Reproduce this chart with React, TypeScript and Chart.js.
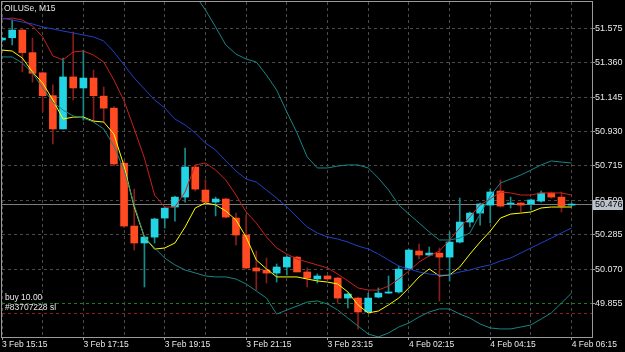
import React, { useEffect, useRef } from "react";
import { Chart, registerables } from "chart.js";

Chart.register(...registerables);

// ---- data ----
const times: string[] = [
  "3 Feb 15:15", "3 Feb 15:30", "3 Feb 15:45", "3 Feb 16:00", "3 Feb 16:15", "3 Feb 16:30", "3 Feb 16:45", "3 Feb 17:00",
  "3 Feb 17:15", "3 Feb 17:30", "3 Feb 17:45", "3 Feb 18:00", "3 Feb 18:15", "3 Feb 18:30", "3 Feb 18:45", "3 Feb 19:00",
  "3 Feb 19:15", "3 Feb 19:30", "3 Feb 19:45", "3 Feb 20:00", "3 Feb 20:15", "3 Feb 20:30", "3 Feb 20:45", "3 Feb 21:00",
  "3 Feb 21:15", "3 Feb 21:30", "3 Feb 21:45", "3 Feb 22:00", "3 Feb 22:15", "3 Feb 22:30", "3 Feb 22:45", "3 Feb 23:00",
  "3 Feb 23:15", "3 Feb 23:30", "3 Feb 23:45", "4 Feb 01:00", "4 Feb 01:15", "4 Feb 01:30", "4 Feb 01:45", "4 Feb 02:00",
  "4 Feb 02:15", "4 Feb 02:30", "4 Feb 02:45", "4 Feb 03:00", "4 Feb 03:15", "4 Feb 03:30", "4 Feb 03:45", "4 Feb 04:00",
  "4 Feb 04:15", "4 Feb 04:30", "4 Feb 04:45", "4 Feb 05:00", "4 Feb 05:15", "4 Feb 05:30", "4 Feb 05:45", "4 Feb 06:00",
  "4 Feb 06:15",
];
const shiftSlots: string[] = ["", ""];

const opens: number[] = [
  51.502, 51.516, 51.564, 51.423, 51.297, 51.154, 50.946, 51.271, 51.202, 51.264, 51.151, 51.076, 50.732, 50.339, 50.233,
  50.270, 50.389, 50.458, 50.520, 50.708, 50.564, 50.489, 50.508, 50.389, 50.283, 50.077, 50.064, 50.045, 50.083, 50.145,
  50.052, 50.008, 50.027, 50.014, 49.889, 49.889, 49.802, 49.895, 49.920, 49.927, 50.070, 50.183, 50.158, 50.170, 50.145,
  50.239, 50.364, 50.420, 50.470, 50.558, 50.477, 50.483, 50.477, 50.495, 50.545, 50.520, 50.470,
];
const highs: number[] = [
  51.520, 51.627, 51.571, 51.514, 51.302, 51.221, 51.389, 51.552, 51.439, 51.314, 51.208, 51.085, 50.745, 50.570, 50.276,
  50.389, 50.458, 50.526, 50.826, 50.720, 50.627, 50.520, 50.514, 50.420, 50.408, 50.183, 50.139, 50.102, 50.152, 50.150,
  50.077, 50.040, 50.030, 50.020, 49.920, 49.895, 49.920, 49.952, 50.027, 50.089, 50.195, 50.227, 50.208, 50.202, 50.302,
  50.514, 50.426, 50.483, 50.570, 50.627, 50.520, 50.486, 50.508, 50.558, 50.552, 50.552, 50.483,
];
const lows: number[] = [
  51.490, 51.471, 51.302, 51.239, 51.052, 50.852, 50.946, 51.127, 51.001, 50.989, 50.989, 50.715, 50.330, 50.189, 49.958,
  50.233, 50.326, 50.370, 50.489, 50.558, 50.480, 50.402, 50.389, 50.221, 50.070, 49.939, 49.983, 49.989, 50.033, 50.052,
  49.958, 49.983, 50.005, 49.858, 49.827, 49.696, 49.800, 49.890, 49.918, 49.920, 50.064, 50.133, 50.152, 49.870, 49.995,
  50.233, 50.333, 50.345, 50.358, 50.458, 50.452, 50.427, 50.440, 50.489, 50.514, 50.427, 50.464,
];
const closes: number[] = [
  51.514, 51.564, 51.423, 51.294, 51.154, 50.946, 51.271, 51.202, 51.264, 51.154, 51.076, 50.727, 50.339, 50.233, 50.270,
  50.383, 50.451, 50.520, 50.708, 50.570, 50.489, 50.508, 50.395, 50.283, 50.077, 50.058, 50.045, 50.083, 50.145, 50.052,
  50.014, 50.027, 50.008, 49.889, 49.914, 49.802, 49.889, 49.920, 49.927, 50.070, 50.189, 50.158, 50.170, 50.145, 50.239,
  50.364, 50.420, 50.477, 50.552, 50.464, 50.483, 50.470, 50.502, 50.545, 50.520, 50.464, 50.476,
];

// indicator lines
const maFast: number[] = [
  51.439, 51.433, 51.389, 51.301, 51.233, 51.127, 51.008, 51.020, 51.020, 50.995, 50.989, 50.914, 50.714, 50.458, 50.270,
  50.195, 50.202, 50.233, 50.333, 50.452, 50.483, 50.471, 50.433, 50.377, 50.270, 50.127, 50.071, 50.021, 50.021, 50.021,
  50.008, 49.996, 49.989, 49.977, 49.927, 49.846, 49.796, 49.808, 49.846, 49.889, 49.952, 50.021, 50.071, 50.027, 50.033,
  50.083, 50.164, 50.239, 50.308, 50.389, 50.414, 50.420, 50.427, 50.452, 50.458, 50.458, 50.458,
];
const maSlow: number[] = [
  51.633, 51.639, 51.627, 51.589, 51.521, 51.402, 51.377, 51.427, 51.433, 51.408, 51.364, 51.252, 51.120, 50.946, 50.764,
  50.533, 50.458, 50.458, 50.552, 50.721, 50.733, 50.689, 50.627, 50.533, 50.427, 50.358, 50.271, 50.202, 50.164, 50.133,
  50.114, 50.096, 50.077, 50.039, 49.996, 49.952, 49.939, 49.939, 49.964, 50.008, 50.058, 50.114, 50.152, 50.183, 50.252,
  50.327, 50.396, 50.471, 50.508, 50.552, 50.546, 50.533, 50.533, 50.546, 50.546, 50.546, 50.533,
];
const bandMid: number[] = [
  51.639, 51.627, 51.614, 51.602, 51.583, 51.571, 51.558, 51.546, 51.533, 51.521, 51.496, 51.427, 51.346, 51.264, 51.196,
  51.127, 51.077, 51.008, 50.971, 50.921, 50.858, 50.814, 50.746, 50.683, 50.633, 50.614, 50.564, 50.514, 50.458, 50.396,
  50.333, 50.296, 50.271, 50.258, 50.239, 50.214, 50.196, 50.164, 50.127, 50.089, 50.071, 50.052, 50.039, 50.033, 50.033,
  50.052, 50.064, 50.083, 50.096, 50.121, 50.139, 50.171, 50.202, 50.233, 50.264, 50.296, 50.327,
];
const bandUpper: number[] = [
  51.882, 51.858, 51.870, 51.908, 51.964, 52.028, 52.052, 52.065, 52.052, 52.053, 52.070, 52.003, 52.003, 52.057, 52.121,
  52.052, 52.015, 51.920, 51.878, 51.780, 51.690, 51.583, 51.471, 51.414, 51.383, 51.364, 51.283, 51.189, 51.052, 50.921,
  50.771, 50.702, 50.702, 50.714, 50.721, 50.721, 50.702, 50.639, 50.564, 50.471, 50.414, 50.358, 50.302, 50.252, 50.252,
  50.264, 50.296, 50.414, 50.527, 50.608, 50.633, 50.658, 50.689, 50.721, 50.746, 50.739, 50.733,
];
const bandLower: number[] = [
  51.396, 51.396, 51.358, 51.296, 51.202, 51.114, 51.064, 51.027, 51.014, 50.989, 50.946, 50.839, 50.689, 50.471, 50.271,
  50.202, 50.139, 50.096, 50.064, 50.046, 50.027, 50.021, 50.021, 50.008, 49.977, 49.933, 49.889, 49.789, 49.814, 49.839,
  49.864, 49.871, 49.852, 49.814, 49.764, 49.714, 49.664, 49.646, 49.671, 49.708, 49.733, 49.771, 49.802, 49.821, 49.821,
  49.789, 49.764, 49.727, 49.702, 49.696, 49.696, 49.708, 49.721, 49.758, 49.796, 49.858, 49.921,
];

const priceTicks: number[] = [49.855, 50.07, 50.285, 50.5, 50.715, 50.93, 51.145, 51.36, 51.575];
const priceMin = 49.6456;
const priceMax = 51.7394;
const bidPrice = 50.476;
const buyPrice = 49.86;
const slPrice = 49.797;
const symbolTitle = "OILUSe, M15";
const buyText = "buy 10.00";
const slText = "#83707228 sl";

const LABEL_EVERY = 8;
const GRID_EVERY = 4;

const FONT = "'Liberation Sans', Arial, sans-serif";
const GRID = "#4a4a4a";
const FRAME = "#9a9a9a";
const TXT = "#e8e8e8";
const BODY_UP = "#22d4e4";
const BODY_DN = "#ff4a22";
const WICK_UP = "#178c8c";
const WICK_DN = "#8a1c1c";

export default function App() {
  const ref = useRef<HTMLCanvasElement>(null);

  useEffect(() => {
    const canvas = ref.current;
    if (!canvas) return;
    const categories = [...times, ...shiftSlots];
    const up = opens.map((o, i) => closes[i] >= o);

    const overlay = {
      id: "mt4overlay",
      beforeDatasetsDraw(chart: any) {
        const { ctx, chartArea: a, scales } = chart;
        const y = scales.y;
        const hline = (v: number, color: string, dash: number[]) => {
          const py = Math.round(y.getPixelForValue(v)) + 0.5;
          ctx.save();
          ctx.strokeStyle = color;
          ctx.lineWidth = 1;
          ctx.setLineDash(dash);
          ctx.beginPath();
          ctx.moveTo(a.left, py);
          ctx.lineTo(a.right, py);
          ctx.stroke();
          ctx.restore();
        };
        hline(buyPrice, "#1d7a1d", [3, 3]);
        hline(slPrice, "#8c1e1e", [3, 3]);
        hline(bidPrice, "#7c7c7c", []);
      },
      afterDraw(chart: any) {
        const { ctx, chartArea: a, scales } = chart;
        const y = scales.y;
        ctx.save();
        // frame
        ctx.strokeStyle = FRAME;
        ctx.lineWidth = 1;
        ctx.setLineDash([]);
        ctx.strokeRect(a.left - 0.5, a.top - 0.5, a.right - a.left + 1, a.bottom - a.top + 1);
        // texts
        ctx.fillStyle = TXT;
        ctx.font = `8.5px ${FONT}`;
        ctx.textAlign = "left";
        ctx.textBaseline = "top";
        ctx.fillText(symbolTitle, 4, 4);
        ctx.textBaseline = "bottom";
        ctx.fillText(buyText, 5, Math.round(y.getPixelForValue(buyPrice)) - 1);
        ctx.fillText(slText, 5, Math.round(y.getPixelForValue(slPrice)) - 1);
        // current price label
        const py = Math.round(y.getPixelForValue(bidPrice));
        ctx.fillStyle = "#bcc2cc";
        ctx.fillRect(a.right + 1, py - 4, 30, 10);
        ctx.fillStyle = "#000000";
        ctx.font = `9px ${FONT}`;
        ctx.textBaseline = "middle";
        ctx.fillText(bidPrice.toFixed(3), a.right + 3, py + 1);
        ctx.restore();
      },
    };

    const lineDs = (label: string, data: number[], color: string) => ({
      type: "line" as const,
      label,
      data,
      borderColor: color,
      borderWidth: 1,
      pointRadius: 0,
      tension: 0,
      fill: false,
      order: 0,
    });

    const chart = new Chart(canvas, {
      type: "bar",
      data: {
        labels: categories,
        datasets: [
          lineDs("Upper band", bandUpper, "#188585"),
          lineDs("Lower band", bandLower, "#188585"),
          lineDs("Middle band", bandMid, "#2140c8"),
          lineDs("Slow MA", maSlow, "#c8201e"),
          lineDs("Fast MA", maFast, "#ffff00"),
          {
            type: "bar" as const,
            label: "Body",
            data: opens.map((o, i) => [o, closes[i]]),
            backgroundColor: up.map((u) => (u ? BODY_UP : BODY_DN)),
            borderWidth: 0,
            barThickness: 7,
            minBarLength: 1,
            grouped: false,
            order: 1,
          } as any,
          {
            type: "bar" as const,
            label: "Wick",
            data: lows.map((l, i) => [l, highs[i]]),
            backgroundColor: up.map((u) => (u ? WICK_UP : WICK_DN)),
            borderWidth: 0,
            barThickness: 1,
            grouped: false,
            order: 2,
          } as any,
        ],
      },
      options: {
        responsive: false,
        animation: false,
        devicePixelRatio: 1,
        layout: { padding: { left: 2, top: 2, right: 0, bottom: 0 } },
        plugins: {
          legend: { display: false },
          tooltip: { enabled: false },
          title: { display: false },
        },
        scales: {
          x: {
            type: "category",
            offset: false,
            grid: {
              offset: false,
              color: (c: any) => (c.index % GRID_EVERY === 0 ? GRID : "rgba(0,0,0,0)"),
              lineWidth: 1,
              drawTicks: true,
              tickLength: 3,
              tickColor: (c: any) => (c.index % LABEL_EVERY === 0 ? FRAME : "rgba(0,0,0,0)"),
            },
            border: { display: false, dash: [3, 3] },
            ticks: {
              autoSkip: false,
              maxRotation: 0,
              minRotation: 0,
              align: "start",
              padding: 0,
              color: TXT,
              font: { family: FONT, size: 8.5 },
              callback: (_v: any, i: number) => (i % LABEL_EVERY === 0 && i < times.length ? times[i] : ""),
            },
            afterFit: (s: any) => {
              s.height = 15;
              s.paddingLeft = 0;
              s.paddingRight = 0;
            },
          },
          y: {
            type: "linear",
            position: "right",
            min: priceMin,
            max: priceMax,
            grid: {
              color: GRID,
              lineWidth: 1,
              drawTicks: true,
              tickLength: 3,
              tickColor: FRAME,
            },
            border: { display: false, dash: [3, 3] },
            afterBuildTicks: (s: any) => {
              s.ticks = priceTicks.map((v) => ({ value: v }));
            },
            ticks: {
              padding: 0,
              color: TXT,
              font: { family: FONT, size: 9 },
              callback: (v: any) => Number(v).toFixed(3),
            },
            afterFit: (s: any) => {
              s.width = 33;
              s.paddingTop = 0;
              s.paddingBottom = 0;
            },
          },
        },
      } as any,
      plugins: [overlay],
    });
    return () => chart.destroy();
  }, []);

  return (
    <div style={{ position: "fixed", left: 0, top: 0, width: 625, height: 352, background: "#000" }}>
      <canvas ref={ref} width={625} height={352} style={{ display: "block", width: 625, height: 352 }} />
    </div>
  );
}
